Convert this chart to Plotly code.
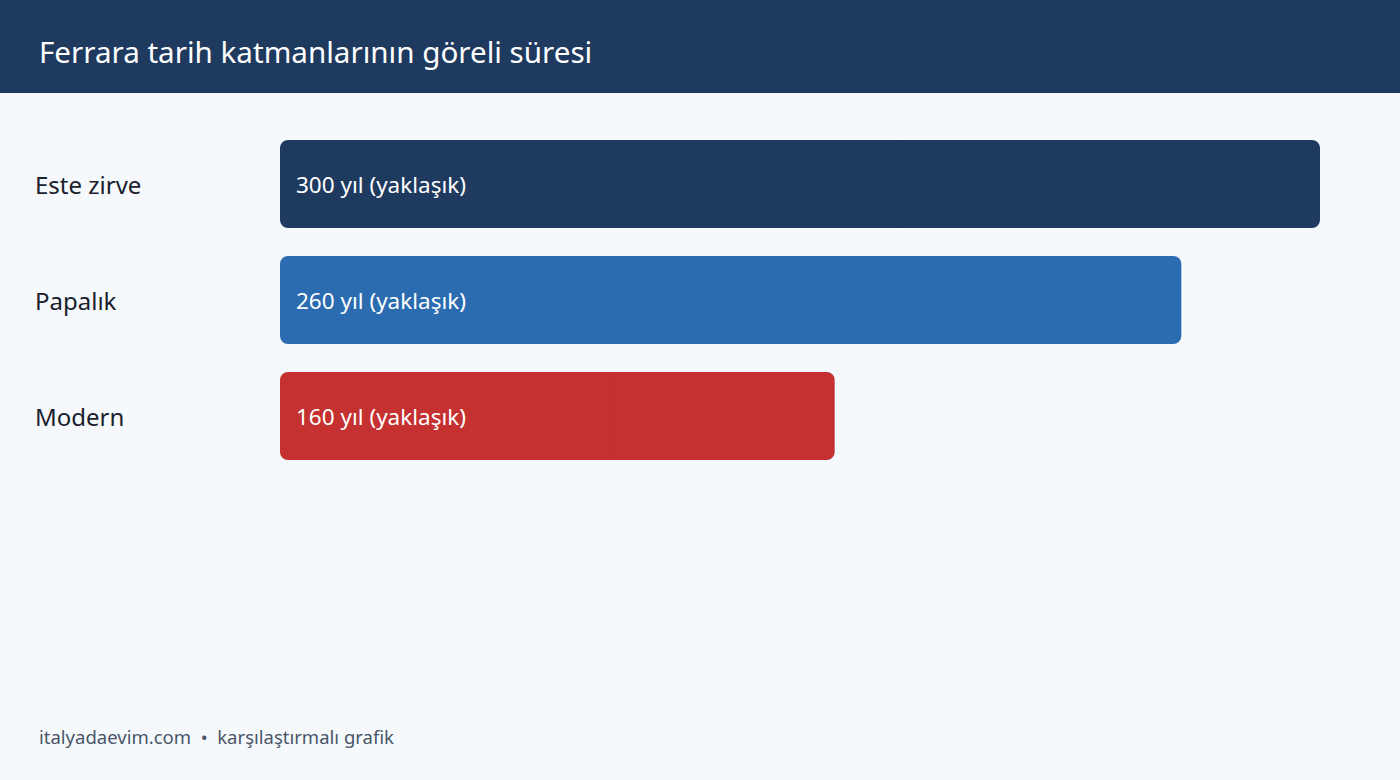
import plotly.graph_objects as go

categories = ["Este zirve", "Papalık", "Modern"]
values = [300, 260, 160]
bar_labels = ["300 yıl (yaklaşık)", "260 yıl (yaklaşık)", "160 yıl (yaklaşık)"]
bar_colors = ["#1f3a5f", "#2b6cb0", "#c53030"]
title_text = "Ferrara tarih katmanlarının göreli süresi"
footer_text = "italyadaevim.com  •  karşılaştırmalı grafik"

W, H = 1400, 780
L, R, T, B = 280, 80, 126, 306
PW, PH = W - L - R, H - T - B
FONT = "Noto Sans"

def px_x(x):
    return (x - L) / PW

def px_y(y):
    return (H - B - y) / PH

fig = go.Figure()
# right part (rounded at the value end)
fig.add_trace(go.Bar(
    y=categories, x=[v * 0.6 for v in values], base=[v * 0.4 for v in values], orientation="h",
    marker=dict(color=bar_colors, cornerradius=8, line=dict(width=0)),
    hoverinfo="skip",
))
# left part (rounded at the zero end)
fig.add_trace(go.Bar(
    y=categories, x=[-v * 0.6 for v in values], base=[v * 0.6 for v in values], orientation="h",
    marker=dict(color=bar_colors, cornerradius=8, line=dict(width=0)),
    hoverinfo="skip",
))

annotations = []
for cat, lab in zip(categories, bar_labels):
    annotations.append(dict(x=0, y=cat, xref="x", yref="y", text=lab, showarrow=False,
                            xanchor="left", xshift=14, font=dict(family=FONT, size=22.5, color="#ffffff")))
    annotations.append(dict(x=px_x(33), y=cat, xref="paper", yref="y", text=cat, showarrow=False,
                            xanchor="left", font=dict(family=FONT, size=24, color="#1a202c")))
annotations.append(dict(x=px_x(37), y=px_y(51), xref="paper", yref="paper", text=title_text,
                        showarrow=False, xanchor="left", yanchor="middle",
                        font=dict(family=FONT, size=29.6, color="#ffffff")))
annotations.append(dict(x=px_x(37), y=px_y(736), xref="paper", yref="paper", text=footer_text,
                        showarrow=False, xanchor="left", yanchor="middle",
                        font=dict(family=FONT, size=18.5, color="#4a5568")))

fig.update_layout(
    width=W, height=H,
    margin=dict(l=L, r=R, t=T, b=B, autoexpand=False),
    paper_bgcolor="#f5f9fc", plot_bgcolor="#f5f9fc",
    showlegend=False, bargap=0.24, barmode="overlay",
    xaxis=dict(range=[0, 300], visible=False, fixedrange=True),
    yaxis=dict(autorange="reversed", visible=False, fixedrange=True),
    shapes=[dict(type="rect", xref="paper", yref="paper",
                 x0=px_x(0), x1=px_x(W), y0=px_y(93), y1=px_y(0),
                 fillcolor="#1f3a5f", line=dict(width=0), layer="below")],
    annotations=annotations,
)

fig.write_html("out.html", config={"displayModeBar": False},
               post_script="document.body.style.margin='0';document.body.style.background='#f5f9fc';")
